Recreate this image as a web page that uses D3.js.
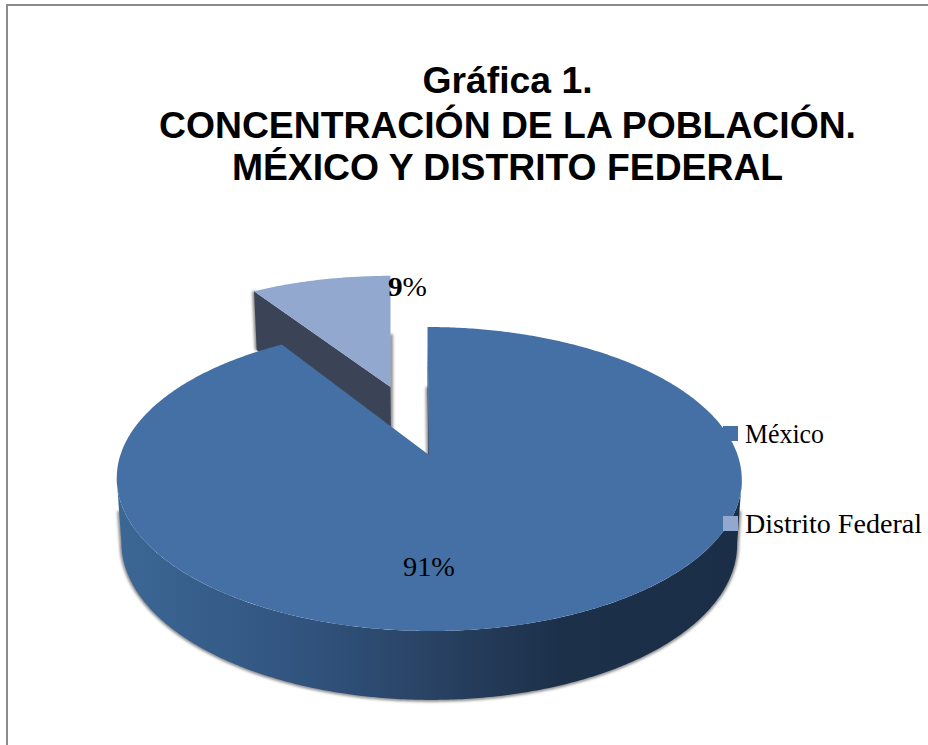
<!DOCTYPE html>
<html lang="es">
<head>
<meta charset="utf-8">
<title>Gráfica 1</title>
<script src="https://cdn.jsdelivr.net/npm/d3@7"></script>
<style>
  html, body { margin: 0; padding: 0; background: #fff; }
  svg { display: block; }
  .title { font-family: "Liberation Sans", Arial, sans-serif; font-weight: 700; font-size: 37.3px; fill: #000; text-anchor: middle; }
  .label { font-family: "Liberation Serif", Cambria, serif; font-size: 26.7px; fill: #000; }
</style>
</head>
<body>
<svg id="chart" width="928" height="745"></svg>
<script>
// Chart content
const titleLines = ["Gráfica 1.", "CONCENTRACIÓN DE LA POBLACIÓN.", "MÉXICO Y DISTRITO FEDERAL"];
const categories = ["México", "Distrito Federal"];
const shares = [91, 9];
const sliceColors = ["#4570a6", "#93a8cf"];

const svg = d3.select("#chart");
const width = 928, height = 745;

// Perspective of the tilted disc: each plane maps projected disc coordinates to the screen.
const tilt = 0.158;
const skew = 0.0056;
const topX = d3.scaleLinear().domain([-1, 1]).range([429 - 308.6, 429 + 308.6]);
const topY = d3.scaleLinear().domain([-1, 1]).range([455 + 148.2, 455 - 148.2]);
const baseX = d3.scaleLinear().domain([-1, 1]).range([429 - 304, 429 + 304]);
const baseY = d3.scaleLinear().domain([-1, 1]).range([518.7 + 152.6, 518.7 - 152.6]);
const planes = { top: [topX, topY], base: [baseX, baseY] };

function project(u, v, plane) {
  const w = 1 + tilt * v;
  const [sx, sy] = planes[plane];
  return [sx(u / w - skew * v / w), sy(v / w)];
}
const onDisc = (angle, plane) => project(Math.sin(angle), Math.cos(angle), plane);
const arcPoints = (a0, a1, plane, at = onDisc) => {
  const n = Math.max(2, Math.ceil(Math.abs(a1 - a0) / 0.01));
  return d3.range(n + 1).map(i => at(a0 + (a1 - a0) * i / n, plane));
};
const line = d3.line();

// Slice angles, clockwise from twelve o'clock
const pieLayout = d3.pie().sort(null).value(d => d);
const [mainArc, smallArc] = pieLayout(shares);

// The small slice slides away along its bisector; its sideways shift stays constant on screen
const explode = 0.515;
const smallMid = (smallArc.startAngle + smallArc.endAngle) / 2;
const shiftU = Math.sin(smallMid) * explode * 0.868;
const shiftV = Math.cos(smallMid) * explode;
function projectSmall(u, v, plane) {
  const vv = v + shiftV;
  const w = 1 + tilt * vv;
  const [sx, sy] = planes[plane];
  return [sx(u / w + shiftU), sy(vv / w)];
}
const onSmall = (angle, plane) => projectSmall(Math.sin(angle), Math.cos(angle), plane);

// Silhouette angles, where the rim of the projected disc is widest
const sideA = Math.acos(-tilt);
const sideB = 2 * Math.PI - sideA;

const defs = svg.append("defs");
defs.append("filter").attr("id", "soft")
  .attr("x", "-10%").attr("y", "-10%").attr("width", "120%").attr("height", "120%")
  .append("feGaussianBlur").attr("stdDeviation", 1.4);

// Rim shading runs from lit on the left to dark on the right
const rimStops = [
  [117, "#3c6795"], [300, "#31547f"], [420, "#2a4466"],
  [560, "#1c3049"], [742, "#1a2e48"]
];
const rimGrad = defs.append("linearGradient").attr("id", "rim")
  .attr("gradientUnits", "userSpaceOnUse")
  .attr("x1", 117).attr("x2", 742).attr("y1", 0).attr("y2", 0);
rimGrad.selectAll("stop").data(rimStops).join("stop")
  .attr("offset", d => (d[0] - 117) / (742 - 117))
  .attr("stop-color", d => d[1]);

// Page frame: only the top and left rules show
svg.append("path")
  .attr("d", line([[7, height], [7, 5], [width, 5]]))
  .attr("fill", "none").attr("stroke", "#8c8c8c").attr("stroke-width", 2);

// Soft contact shadows under the solid parts
const shadows = svg.append("g").attr("filter", "url(#soft)")
  .attr("fill", "none").attr("stroke", "#6f6f6f").attr("stroke-width", 3);
const rimShadow = arcPoints(sideA, sideB, "base");
const midpoint = (a, b) => [(a[0] + b[0]) / 2, (a[1] + b[1]) / 2];
shadows.append("path").attr("d", line([
  midpoint(onDisc(sideA, "top"), onDisc(sideA, "base")),
  ...rimShadow,
  midpoint(onDisc(sideB, "top"), onDisc(sideB, "base"))
]));
shadows.append("path").attr("d", line([
  onSmall(smallArc.endAngle, "base"), projectSmall(0, 0, "base")
]));
shadows.append("path").attr("d", line([
  onSmall(smallArc.startAngle, "base"), onSmall(smallArc.startAngle, "top")
]));
shadows.append("path").attr("d", line([
  onDisc(0, "base"), project(0, 0, "base")
]));

// Exploded slice: cut face, then its top
svg.append("path")
  .attr("d", line([
    onSmall(smallArc.startAngle, "top"),
    projectSmall(0, 0, "top"),
    projectSmall(0, 0, "base"),
    onSmall(smallArc.startAngle, "base")
  ]) + "Z")
  .attr("fill", "#3b4356");
svg.append("path")
  .attr("d", line([
    projectSmall(0, 0, "top"),
    ...arcPoints(smallArc.startAngle, smallArc.endAngle, "top", onSmall)
  ]) + "Z")
  .attr("fill", sliceColors[1]);

// Main slice: outer wall, cut face, top
svg.append("path")
  .attr("d", line([
    ...arcPoints(sideA, sideB, "top"),
    ...arcPoints(sideB, sideA, "base")
  ]) + "Z")
  .attr("fill", "url(#rim)");
svg.append("path")
  .attr("d", line([
    onDisc(0, "top"), project(0, 0, "top"),
    project(0, 0, "base"), onDisc(0, "base")
  ]) + "Z")
  .attr("fill", "#26364f");
svg.append("path")
  .attr("d", line([
    project(0, 0, "top"),
    ...arcPoints(mainArc.startAngle, mainArc.endAngle, "top")
  ]) + "Z")
  .attr("fill", sliceColors[0]);

// Title
svg.append("g").selectAll("text").data(titleLines).join("text")
  .attr("class", "title")
  .attr("x", 507.5)
  .attr("y", (d, i) => [92.5, 137.5, 180][i])
  .text(d => d);

// Fits serif text to its measured run
const fit = (sel, length) => sel.attr("textLength", length).attr("lengthAdjust", "spacingAndGlyphs");

// Value labels; the small slice carries a bold leading digit
fit(svg.append("text").attr("class", "label")
  .attr("x", 403).attr("y", 576).text(`${shares[0]}%`), 52);
const smallLabel = svg.append("text").attr("class", "label")
  .attr("x", 388).attr("y", 296);
smallLabel.append("tspan").attr("font-weight", 700).text(shares[1]);
smallLabel.append("tspan").text("%");
fit(smallLabel, 39);

// Legend
const legendRuns = [79, 177];
const legendY = d3.scalePoint().domain(categories).range([434, 524]);
const legend = svg.append("g").selectAll("g").data(categories).join("g")
  .attr("transform", d => `translate(0,${legendY(d)})`);
legend.append("rect")
  .attr("x", 723).attr("y", -8).attr("width", 15).attr("height", 15)
  .attr("fill", (d, i) => sliceColors[i]);
legend.append("text").attr("class", "label")
  .attr("x", 745).attr("y", 9)
  .attr("textLength", (d, i) => legendRuns[i])
  .attr("lengthAdjust", "spacingAndGlyphs")
  .text(d => d);
</script>
</body>
</html>
